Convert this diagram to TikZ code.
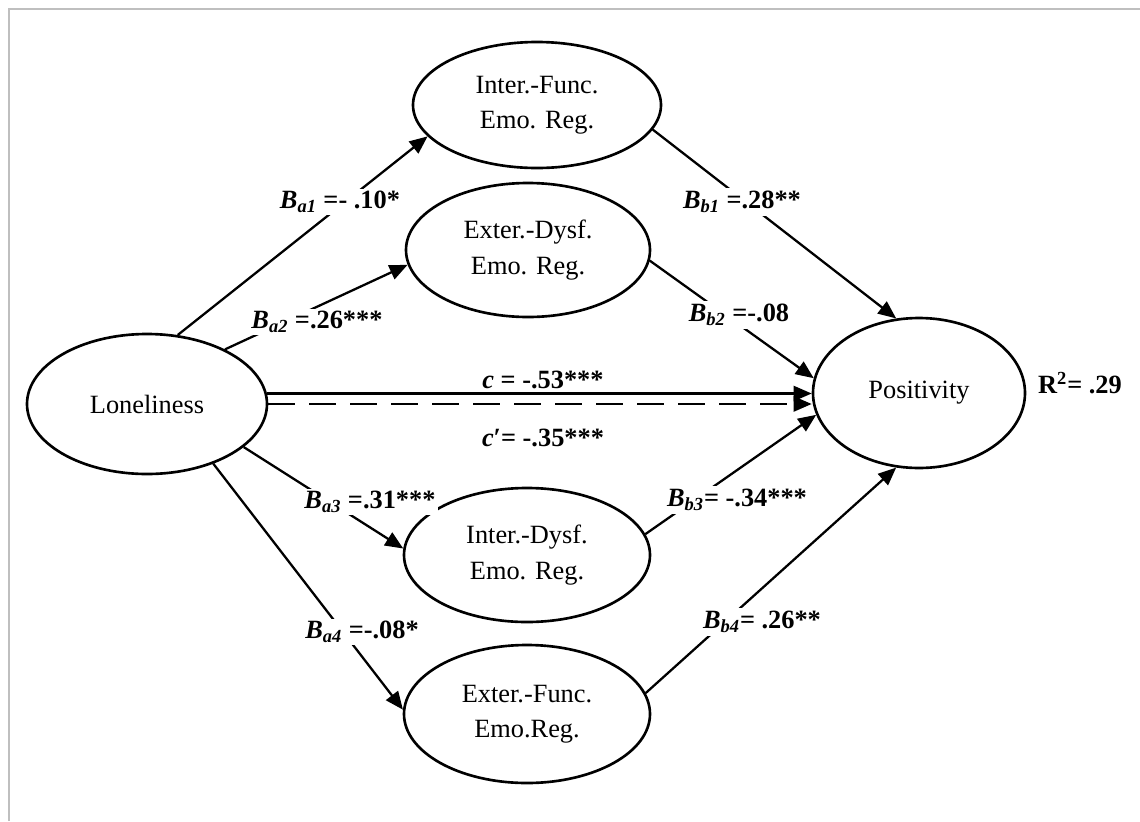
\documentclass[tikz,border=0pt]{standalone}
\usepackage{fontspec}
\setmainfont{Liberation Serif}
\usepackage{tikz}
\usetikzlibrary{positioning}
\usetikzlibrary{shapes.geometric}
\usetikzlibrary{calc}
\usetikzlibrary{arrows.meta}

\newcommand{\coef}[1]{\textit{B}\textsubscript{\textit{#1}}}

\begin{document}
\begin{tikzpicture}[
		latent/.style={draw, ellipse, line width=1.5pt, inner sep=0pt, align=center, font=\fontsize{15}{20}\selectfont},
		link/.style={line width=1.3pt, -{Triangle[length=0.36cm, width=0.3cm]}},
		effect/.style={fill=white, inner sep=1.5pt, font=\fontsize{15}{17}\selectfont\bfseries}
	]
		\useasboundingbox (0,0) rectangle (22.8,-16.42);
		\draw [gray!50, line width=0.6pt] (0.18,-16.42) -- (0.18,-0.18) -- (22.8,-0.18);

		\node at (2.94,-8.08) [latent, minimum width=4.8cm, minimum height=2.8cm] (lone) {Loneliness};
		\node at (10.74,-2.10) [latent, minimum width=4.96cm, minimum height=2.52cm] (ifunc) {Inter.-Func.\\Emo. Reg.};
		\node at (10.56,-5.00) [latent, minimum width=4.88cm, minimum height=2.68cm] (edysf) {Exter.-Dysf.\\Emo. Reg.};
		\node at (10.54,-11.10) [latent, minimum width=4.92cm, minimum height=2.68cm] (idysf) {Inter.-Dysf.\\Emo. Reg.};
		\node at (10.54,-14.28) [latent, minimum width=4.92cm, minimum height=2.76cm] (efunc) {Exter.-Func.\\Emo.Reg.};
		\node at (18.38,-7.86) [latent, minimum width=4.24cm, minimum height=3.0cm] (posi) {Positivity};

		\foreach \from/\to in {lone.66/ifunc.196, lone.35/edysf.187, ifunc.348/posi.107, edysf.355/posi.172, lone.336/idysf.177, idysf.10/posi.192, lone.318/efunc.178, efunc.10/posi.253} {
			\draw [link] (\from) -- (\to);
		}
		\draw [link] (lone.5) -- (lone.5 -| posi.west);
		\draw [link, dash pattern=on 0.54cm off 0.28cm] (lone.east) -- (lone.east -| posi.west); % c' path

		\node at (6.80,-4.04) [effect] (a1) {\coef{a1} =- .10*};
		\node at (6.34,-6.44) [effect] (a2) {\coef{a2} =.26***};
		\node at (14.84,-4.04) [effect] (b1) {\coef{b1} =.28**};
		\node at (14.78,-6.30) [effect] (b2) {\coef{b2} =-.08};
		\node at (10.86,-7.60) [effect, fill=none] (c) {\textit{c} = -.53***};
		\node at (10.86,-8.76) [effect, fill=none] (cp) {\textit{c}′= -.35***};
		\node at (7.40,-10.04) [effect] (a3) {\coef{a3} =.31***};
		\node at (14.74,-10.00) [effect] (b3) {\coef{b3}= -.34***};
		\node at (7.24,-12.64) [effect] (a4) {\coef{a4} =-.08*};
		\node at (15.24,-12.44) [effect] (b4) {\coef{b4}= .26**};
		\node at (21.60,-7.66) [effect, fill=none] (rsq) {R\textsuperscript{2}= .29};
\end{tikzpicture}
\end{document}
